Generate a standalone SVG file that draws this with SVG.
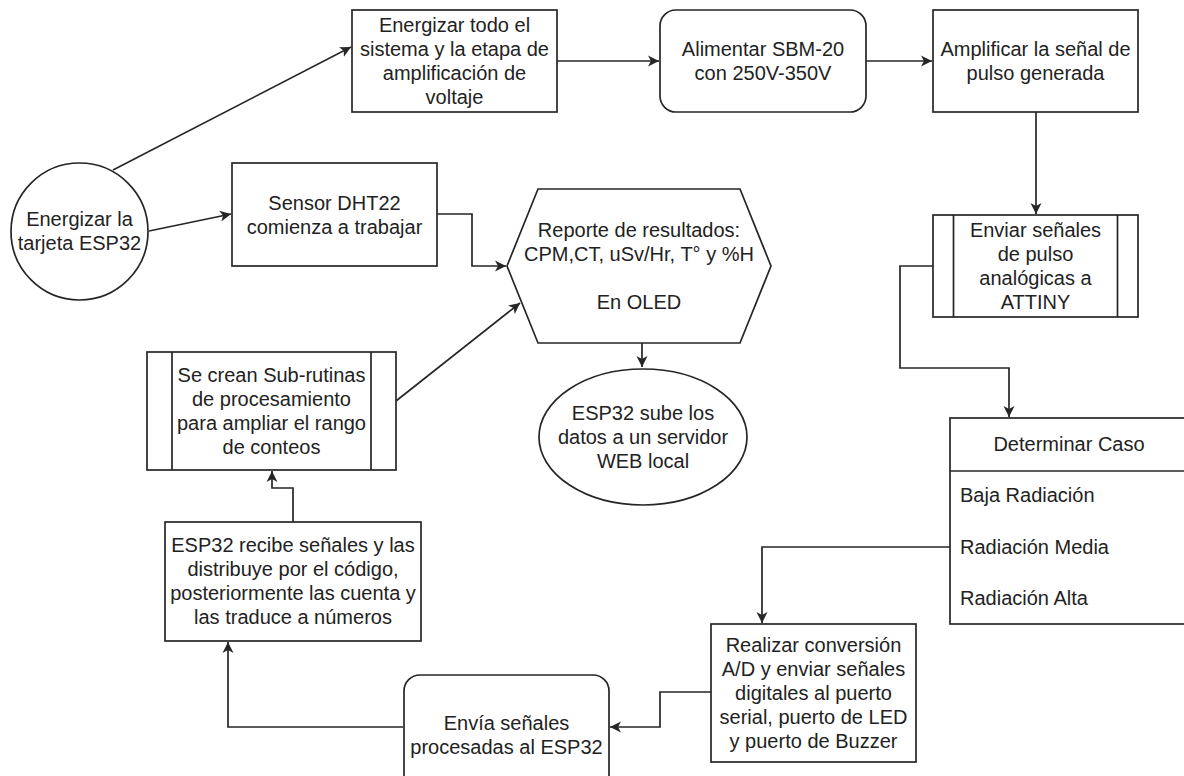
<svg xmlns="http://www.w3.org/2000/svg" width="1184" height="776" viewBox="0 0 1184 776">
<style>
.n{fill:#fff;stroke:#262626;stroke-width:1.7}
.l{fill:none;stroke:#262626;stroke-width:1.7}
.e{fill:none;stroke:#262626;stroke-width:1.7;marker-end:url(#a)}
text{font-family:"Liberation Sans",Arial,Helvetica,sans-serif;font-size:20px;fill:#222;text-anchor:middle}
.lt{text-anchor:start}
</style>
<defs>
<marker id="a" markerUnits="userSpaceOnUse" markerWidth="14" markerHeight="12" refX="11" refY="6" orient="auto">
<path d="M0,0.5 L11,6 L0,11.5 L3,6 Z" fill="#262626"/>
</marker>
</defs>
<rect width="1184" height="776" fill="#fff"/>
<g id="connectors">
<path class="e" d="M113,170 L351,47"/>
<path class="e" d="M149,231 L231,214"/>
<path class="e" d="M557,61 H659"/>
<path class="e" d="M866,61 H932"/>
<path class="e" d="M1036,112 V214"/>
<path class="e" d="M437,214 H472 V266 H506"/>
<path class="e" d="M396,401 L520,303"/>
<path class="e" d="M642,343 V367"/>
<path class="e" d="M933,266 H900 V368 H1009 V417"/>
<path class="e" d="M950,547 H762 V623"/>
<path class="e" d="M711,692 H660 V727 H610"/>
<path class="e" d="M403,727 H228 V642"/>
<path class="e" d="M293,522 V488 H272 V471"/>
</g>
<g id="n1">
<circle class="n" cx="79.5" cy="231.5" r="68.5"/>
<text x="79.5" y="226">Energizar la</text>
<text x="79.5" y="250">tarjeta ESP32</text>
</g>
<g id="n2">
<rect class="n" x="352" y="10" width="205" height="102"/>
<text x="454.5" y="32">Energizar todo el</text>
<text x="454.5" y="56">sistema y la etapa de</text>
<text x="454.5" y="80">amplificación de</text>
<text x="454.5" y="104">voltaje</text>
</g>
<g id="n3">
<rect class="n" x="660" y="10" width="206" height="102" rx="16"/>
<text x="763" y="56">Alimentar SBM-20</text>
<text x="763" y="80">con 250V-350V</text>
</g>
<g id="n4">
<rect class="n" x="933" y="10" width="205" height="102"/>
<text x="1035.5" y="56">Amplificar la señal de</text>
<text x="1035.5" y="80">pulso generada</text>
</g>
<g id="n5">
<rect class="n" x="933" y="215" width="205" height="102"/>
<path class="l" d="M953.5,215 V317 M1117.5,215 V317"/>
<text x="1035.5" y="237">Enviar señales</text>
<text x="1035.5" y="261">de pulso</text>
<text x="1035.5" y="285">analógicas a</text>
<text x="1035.5" y="309">ATTINY</text>
</g>
<g id="n6">
<rect class="n" x="232" y="163" width="205" height="103"/>
<text x="334.5" y="210">Sensor DHT22</text>
<text x="334.5" y="234">comienza a trabajar</text>
</g>
<g id="n7">
<polygon class="n" points="507,266 538,189 740,189 771,266 740,343 538,343"/>
<text x="639" y="237">Reporte de resultados:</text>
<text x="639" y="261">CPM,CT, uSv/Hr, T° y %H</text>
<text x="639" y="309">En OLED</text>
</g>
<g id="n8">
<ellipse class="n" cx="643" cy="437" rx="104" ry="68"/>
<text x="643" y="420">ESP32 sube los</text>
<text x="643" y="444">datos a un servidor</text>
<text x="643" y="468">WEB local</text>
</g>
<g id="n9">
<rect class="n" x="147" y="352" width="249" height="118"/>
<path class="l" d="M172,352 V470 M371,352 V470"/>
<text x="271.5" y="382">Se crean Sub-rutinas</text>
<text x="271.5" y="406">de procesamiento</text>
<text x="271.5" y="430">para ampliar el rango</text>
<text x="271.5" y="454">de conteos</text>
</g>
<g id="n10">
<rect class="n" x="165" y="522" width="256" height="119"/>
<text x="293" y="552">ESP32 recibe señales y las</text>
<text x="293" y="576">distribuye por el código,</text>
<text x="293" y="600">posteriormente las cuenta y</text>
<text x="293" y="624">las traduce a números</text>
</g>
<g id="n11">
<rect class="n" x="950" y="418" width="240" height="206"/>
<path class="l" d="M950,471 H1190"/>
<text x="1069" y="451">Determinar Caso</text>
<text class="lt" x="960" y="502">Baja Radiación</text>
<text class="lt" x="960" y="554">Radiación Media</text>
<text class="lt" x="960" y="605">Radiación Alta</text>
</g>
<g id="n12">
<rect class="n" x="711" y="624" width="205" height="138"/>
<text x="813.5" y="652">Realizar conversión</text>
<text x="813.5" y="676">A/D y enviar señales</text>
<text x="813.5" y="700">digitales al puerto</text>
<text x="813.5" y="724">serial, puerto de LED</text>
<text x="813.5" y="748">y puerto de Buzzer</text>
</g>
<g id="n13">
<rect class="n" x="404" y="675" width="205" height="120" rx="16"/>
<text x="506.5" y="730">Envía señales</text>
<text x="506.5" y="754">procesadas al ESP32</text>
</g>
</svg>
